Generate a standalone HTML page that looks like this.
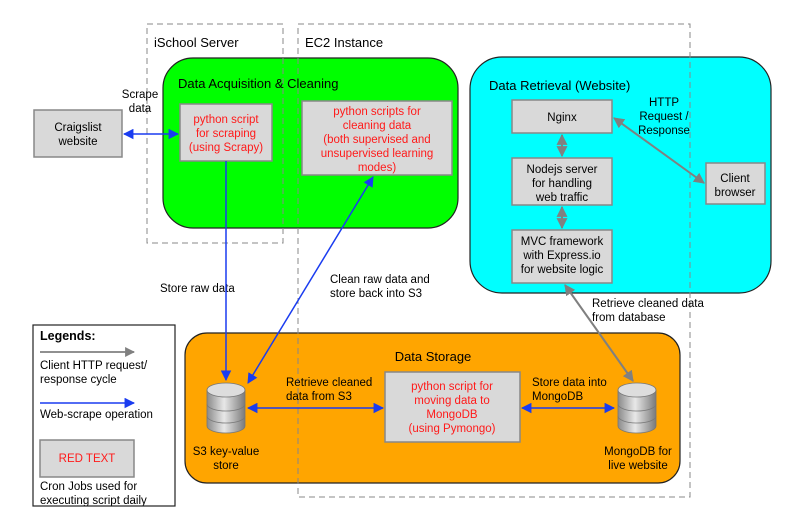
<!DOCTYPE html>
<html><head><meta charset="utf-8"><style>
body{margin:0;background:#fff;}
svg text{font-family:"Liberation Sans",Arial,sans-serif;}
</style></head><body>
<svg width="792" height="520" viewBox="0 0 792 520" xmlns="http://www.w3.org/2000/svg">
<defs>
<marker id="bl" viewBox="0 0 10 10" refX="9" refY="5" markerWidth="7" markerHeight="7" orient="auto-start-reverse"><path d="M0,0L10,5L0,10z" fill="#1a3cf0"/></marker>
<marker id="gr" viewBox="0 0 10 10" refX="9" refY="5" markerWidth="5.5" markerHeight="5.5" orient="auto-start-reverse"><path d="M0,0L10,5L0,10z" fill="#808080"/></marker>
<linearGradient id="cyl" x1="0" x2="1"><stop offset="0" stop-color="#8a8a8a"/><stop offset="0.45" stop-color="#e8e8e8"/><stop offset="1" stop-color="#7a7a7a"/></linearGradient>
</defs>
<rect x="163" y="58" width="295" height="170" rx="30" fill="#00ff00" stroke="#222" stroke-width="1.2"/>
<rect x="470" y="57" width="301" height="236" rx="32" fill="#00ffff" stroke="#222" stroke-width="1.2"/>
<rect x="185" y="333" width="495" height="150" rx="22" fill="#ffa500" stroke="#222" stroke-width="1.2"/>
<rect x="147" y="24" width="136" height="219" fill="none" stroke="#888" stroke-dasharray="6,4"/>
<rect x="298" y="24" width="392" height="473" fill="none" stroke="#888" stroke-dasharray="6,4"/>
<text x="154" y="47" font-size="13">iSchool Server</text>
<text x="305" y="47" font-size="13">EC2 Instance</text>
<text x="178" y="88" font-size="13">Data Acquisition &amp; Cleaning</text>
<text x="489" y="90" font-size="13">Data Retrieval (Website)</text>
<text x="433" y="361" font-size="13" text-anchor="middle">Data Storage</text>
<g stroke="#888" stroke-width="1.5" fill="#d9d9d9">
<rect x="34" y="110" width="88" height="47"/>
<rect x="180" y="104" width="92" height="57"/>
<rect x="302" y="101" width="150" height="74"/>
<rect x="512" y="100" width="100" height="33"/>
<rect x="512" y="158" width="100" height="47"/>
<rect x="512" y="230" width="100" height="53"/>
<rect x="706" y="163" width="59" height="41"/>
<rect x="385" y="372" width="135" height="70"/>
<rect x="40" y="440" width="94" height="37"/>
</g>
<g font-size="11.5" text-anchor="middle">
<text x="78" y="131">Craigslist</text><text x="78" y="145">website</text>
<g fill="#ff1a1a"><text x="226" y="123">python script</text><text x="226" y="137">for scraping</text><text x="226" y="151">(using Scrapy)</text>
<text x="377" y="115">python scripts for</text><text x="377" y="129">cleaning data</text><text x="377" y="143">(both supervised and</text><text x="377" y="157">unsupervised learning</text><text x="377" y="171">modes)</text>
<text x="452" y="390">python script for</text><text x="452" y="404">moving data to</text><text x="452" y="418">MongoDB</text><text x="452" y="432">(using Pymongo)</text>
<text x="87" y="462">RED TEXT</text></g>
<text x="562" y="121">Nginx</text>
<text x="562" y="173">Nodejs server</text><text x="562" y="187">for handling</text><text x="562" y="201">web traffic</text>
<text x="562" y="245">MVC framework</text><text x="562" y="259">with Express.io</text><text x="562" y="273">for website logic</text>
<text x="735" y="182">Client</text><text x="735" y="196">browser</text>
<text x="140" y="98">Scrape</text><text x="140" y="112">data</text>
<text x="664" y="106">HTTP</text><text x="664" y="120">Request /</text><text x="664" y="134">Response</text>
<text x="226" y="455">S3 key-value</text><text x="226" y="469">store</text>
<text x="638" y="455">MongoDB for</text><text x="638" y="469">live website</text>
</g>
<g font-size="11.5">
<text x="160" y="292">Store raw data</text>
<text x="330" y="283">Clean raw data and</text><text x="330" y="297">store back into S3</text>
<text x="592" y="307">Retrieve cleaned data</text><text x="592" y="321">from database</text>
<text x="286" y="386">Retrieve cleaned</text><text x="286" y="400">data from S3</text>
<text x="532" y="386">Store data into</text><text x="532" y="400">MongoDB</text>
<text x="40" y="369">Client HTTP request/</text><text x="40" y="383">response cycle</text>
<text x="40" y="418">Web-scrape operation</text>
<text x="40" y="490">Cron Jobs used for</text><text x="40" y="504">executing script daily</text>
</g>
<rect x="33" y="325" width="142" height="181" fill="none" stroke="#222" stroke-width="1.2"/>
<text x="40" y="340" font-size="12.5" font-weight="bold">Legends:</text>
<line x1="40" y1="352" x2="134" y2="352" stroke="#808080" stroke-width="1.8" marker-end="url(#gr)"/>
<line x1="40" y1="403" x2="134" y2="403" stroke="#1a3cf0" stroke-width="1.5" marker-end="url(#bl)"/>
<g stroke="#777" stroke-width="0.8">
<path d="M207,390 v36 a19,7 0 0 0 38,0 v-36" fill="url(#cyl)"/><ellipse cx="226" cy="390" rx="19" ry="7" fill="#ddd"/>
<path d="M207,404 a19,7 0 0 0 38,0 M207,416 a19,7 0 0 0 38,0" fill="none"/>
<path d="M618,390 v36 a19,7 0 0 0 38,0 v-36" fill="url(#cyl)"/><ellipse cx="637" cy="390" rx="19" ry="7" fill="#ddd"/>
<path d="M618,404 a19,7 0 0 0 38,0 M618,416 a19,7 0 0 0 38,0" fill="none"/>
</g>
<g stroke="#1a3cf0" stroke-width="1.5" fill="none">
<line x1="124" y1="134" x2="178" y2="134" marker-start="url(#bl)" marker-end="url(#bl)"/>
<line x1="226" y1="161" x2="226" y2="380" marker-end="url(#bl)"/>
<line x1="248" y1="383" x2="373" y2="177" marker-start="url(#bl)" marker-end="url(#bl)"/>
<line x1="248" y1="408" x2="383" y2="408" marker-start="url(#bl)" marker-end="url(#bl)"/>
<line x1="522" y1="408" x2="614" y2="408" marker-start="url(#bl)" marker-end="url(#bl)"/>
</g>
<g stroke="#808080" stroke-width="2" fill="none">
<line x1="562" y1="135" x2="562" y2="156" marker-start="url(#gr)" marker-end="url(#gr)"/>
<line x1="562" y1="207" x2="562" y2="228" marker-start="url(#gr)" marker-end="url(#gr)"/>
<line x1="614" y1="118" x2="704" y2="183" marker-start="url(#gr)" marker-end="url(#gr)"/>
<line x1="565" y1="285" x2="633" y2="381" marker-start="url(#gr)" marker-end="url(#gr)"/>
</g>
</svg>
</body></html>
